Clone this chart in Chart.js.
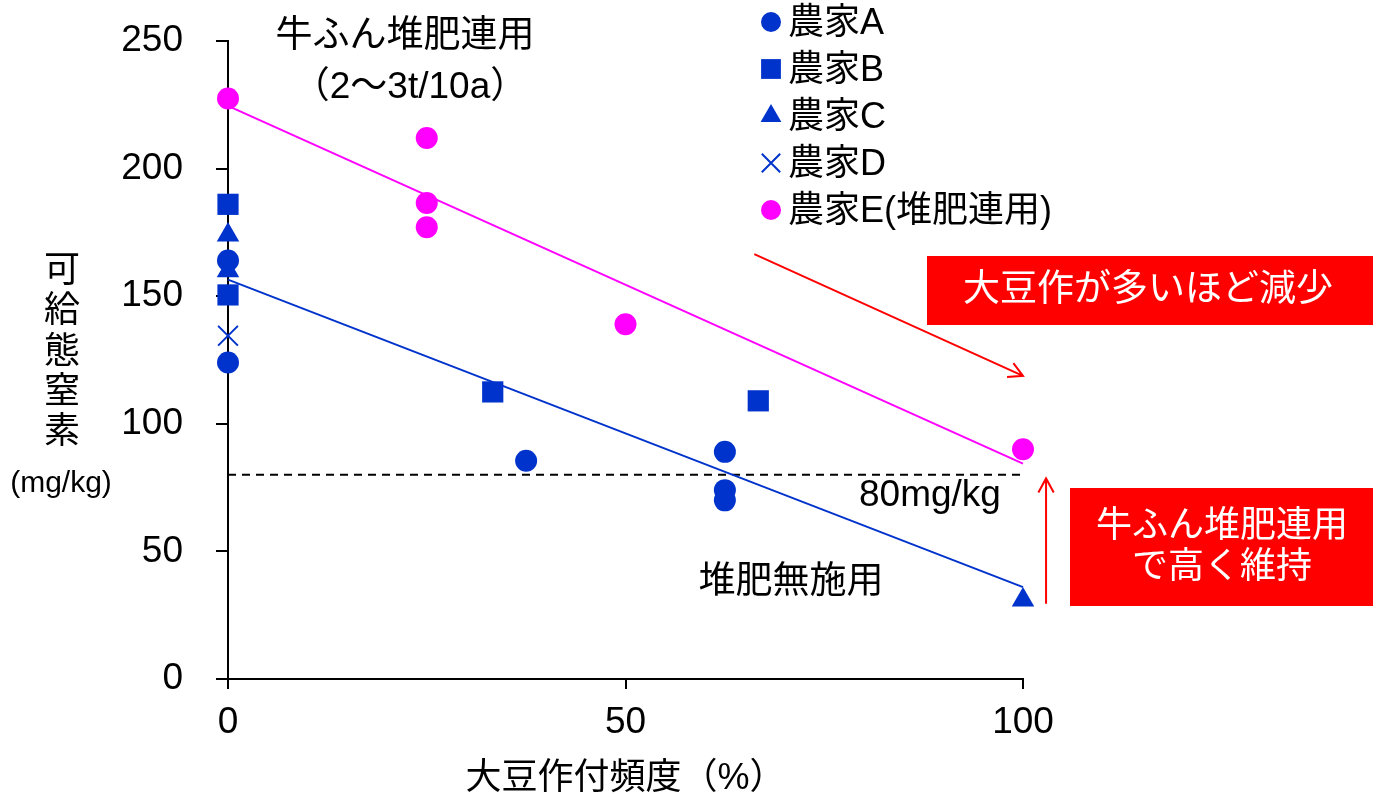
<!DOCTYPE html>
<html>
<head>
<meta charset="utf-8">
<script src="https://cdn.jsdelivr.net/npm/chart.js@4.4.0/dist/chart.umd.min.js"></script>
<style>
html,body{margin:0;padding:0;background:#fff;}
canvas{display:block;}
</style>
</head>
<body>
<canvas id="graphic" width="1380" height="801"></canvas>
<script>
var FONT = '"Liberation Sans", Arial, "Noto Sans CJK JP", sans-serif';
var BLUE = '#0033cc', PINK = '#ff00ff', RED = '#ff0000';

// 大豆作付頻度(%) と 可給態窒素(mg/kg)
var farmAx = [0, 0, 37.5, 62.5, 62.5, 62.5];
var farmAy = [164, 124, 85.5, 89, 74, 70];
var farmBx = [0, 0, 33.3, 66.7];
var farmBy = [186, 150.5, 112.5, 109];
var farmCx = [0, 0, 100];
var farmCy = [174, 160, 31];
var farmDx = [0];
var farmDy = [134.5];
var farmEx = [0, 25, 25, 25, 50, 100];
var farmEy = [227.5, 212, 186.5, 177, 139, 90];

// 回帰直線 (両端) と基準値
var trendX = [0, 100];
var trendNoCompost = [156.5, 36];
var trendCompost = [224.6, 84.4];
var threshold = 80;

var xTicks = [0, 50, 100];
var yTicks = [0, 50, 100, 150, 200, 250];

function pts(xs, ys) {
  return xs.map(function (x, i) { return {x: x, y: ys[i]}; });
}

function farm(label, xs, ys, color, style, r) {
  return {
    type: 'scatter', label: label, data: pts(xs, ys),
    pointStyle: style, pointRadius: r, pointHoverRadius: r,
    backgroundColor: color, borderColor: color,
    borderWidth: style === 'crossRot' ? 2 : 0,
    clip: false, order: 1
  };
}

function line(ys, color, dash) {
  return {
    type: 'line', label: '', trend: true, data: pts(trendX, ys),
    borderColor: color, borderWidth: 2, borderDash: dash || [],
    pointRadius: 0, fill: false, clip: false, order: 10
  };
}

var datasets = [
  farm('農家A', farmAx, farmAy, BLUE, 'circle', 11),
  farm('農家B', farmBx, farmBy, BLUE, 'rect', 15),
  farm('農家C', farmCx, farmCy, BLUE, 'triangle', 13),
  farm('農家D', farmDx, farmDy, BLUE, 'crossRot', 14),
  farm('農家E(堆肥連用)', farmEx, farmEy, PINK, 'circle', 11),
  line(trendNoCompost, BLUE),
  line(trendCompost, PINK),
  line([threshold, threshold], '#000', [8, 6])
];

function arrow(ctx, x1, y1, x2, y2) {
  var a = Math.atan2(y2 - y1, x2 - x1), h = 16;
  ctx.beginPath();
  ctx.moveTo(x1, y1); ctx.lineTo(x2, y2);
  ctx.moveTo(x2 - h * Math.cos(a - 0.5), y2 - h * Math.sin(a - 0.5));
  ctx.lineTo(x2, y2);
  ctx.lineTo(x2 - h * Math.cos(a + 0.5), y2 - h * Math.sin(a + 0.5));
  ctx.stroke();
}

var extras = {
  id: 'extras',
  afterDraw: function (chart) {
    var ctx = chart.ctx, xs = chart.scales.x, ys = chart.scales.y;
    ctx.save();
    ctx.textAlign = 'center';
    ctx.textBaseline = 'middle';
    ctx.fillStyle = '#000';

    // y軸タイトル (縦書き)
    ctx.font = '36px ' + FONT;
    '可給態窒素'.split('').forEach(function (c, i) {
      ctx.fillText(c, 62, 272 + i * 40.3);
    });
    ctx.font = '30px ' + FONT;
    ctx.fillText('(mg/kg)', 61, 484);

    // 注記
    ctx.font = '37px ' + FONT;
    ctx.fillText('牛ふん堆肥連用', 405, 37);
    ctx.fillText('（2〜3t/10a）', 410, 88);
    ctx.fillText('堆肥無施用', 791, 583);
    ctx.textAlign = 'left';
    ctx.fillText('80mg/kg', 859, 496);

    // 赤い矢印
    ctx.strokeStyle = RED;
    ctx.lineWidth = 2;
    arrow(ctx, xs.getPixelForValue(66.2), ys.getPixelForValue(166.5),
               xs.getPixelForValue(100), ys.getPixelForValue(118.8));
    arrow(ctx, xs.getPixelForValue(102.9), ys.getPixelForValue(29.5),
               xs.getPixelForValue(102.9), ys.getPixelForValue(78.6));

    // 赤い枠
    ctx.fillStyle = RED;
    ctx.fillRect(927, 256, 446, 69);
    ctx.fillRect(1070, 488, 303, 118);
    ctx.fillStyle = '#fff';
    ctx.textAlign = 'center';
    ctx.font = '37px ' + FONT;
    ctx.fillText('大豆作が多いほど減少', 1148, 291);
    ctx.font = '36px ' + FONT;
    ctx.fillText('牛ふん堆肥連用', 1222, 527);
    ctx.fillText('で高く維持', 1222, 568);

    // 凡例
    ctx.textAlign = 'left';
    ctx.font = '36px ' + FONT;
    var row = 0;
    chart.data.datasets.forEach(function (ds) {
      if (ds.trend) return;
      var y = 22 + row * 47;
      ctx.fillStyle = ds.backgroundColor;
      ctx.strokeStyle = ds.borderColor;
      ctx.lineWidth = ds.borderWidth || 0;
      Chart.helpers.drawPoint(ctx, {
        pointStyle: ds.pointStyle, radius: ds.pointRadius - 1, rotation: 0,
        borderWidth: ds.borderWidth || 0
      }, 771, y);
      ctx.fillStyle = '#000';
      ctx.fillText(ds.label, 788, y + 2);
      row++;
    });
    ctx.restore();
  }
};

var ctx = document.getElementById('graphic').getContext('2d');

var miGrafico = new Chart(ctx, {
  type: 'scatter',
  data: {datasets: datasets},
  plugins: [extras],
  options: {
    responsive: false,
    animation: false,
    devicePixelRatio: 1,
    layout: {padding: {top: 41, right: 357, left: 0, bottom: 0}},
    plugins: {legend: {display: false}, tooltip: {enabled: false}},
    scales: {
      x: {
        min: 0, max: 100,
        afterFit: function (s) { s.height = 122; },
        afterBuildTicks: function (s) { s.ticks = xTicks.map(function (v) { return {value: v}; }); },
        grid: {drawOnChartArea: false, drawTicks: true, tickLength: 10, color: '#000', lineWidth: 2},
        border: {color: '#000', width: 2},
        ticks: {color: '#000', font: {family: FONT, size: 37}, padding: 12, maxRotation: 0},
        title: {display: true, text: '大豆作付頻度（%）', color: '#000',
                font: {family: FONT, size: 36}, padding: {top: 0, bottom: 0}}
      },
      y: {
        min: 0, max: 250,
        afterFit: function (s) { s.width = 228; s.paddingTop = 0; s.paddingBottom = 0; },
        afterBuildTicks: function (s) { s.ticks = yTicks.map(function (v) { return {value: v}; }); },
        grid: {drawOnChartArea: false, drawTicks: true, tickLength: 12, color: '#000', lineWidth: 2},
        border: {color: '#000', width: 2},
        ticks: {color: '#000', font: {family: FONT, size: 37}, padding: 33}
      }
    }
  }
});
</script>
</body>
</html>
